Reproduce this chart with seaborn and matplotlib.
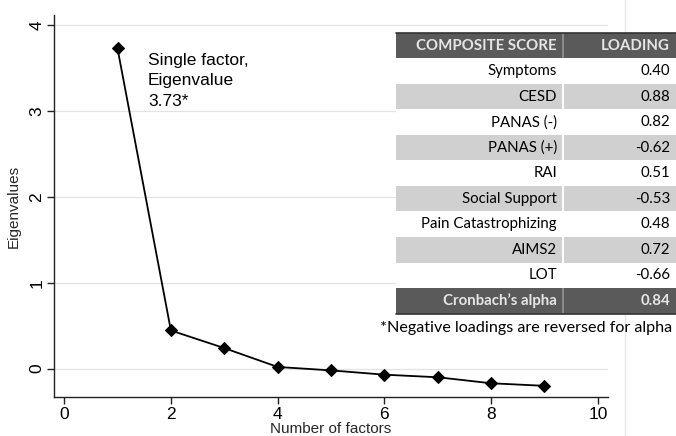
import matplotlib
matplotlib.use("Agg")
import matplotlib.pyplot as plt
import seaborn as sns
import pandas as pd
from matplotlib.patches import Rectangle
from matplotlib.lines import Line2D

# ---- data ----
factors = [1, 2, 3, 4, 5, 6, 7, 8, 9]
eigenvalues = [3.73, 0.445, 0.24, 0.02, -0.02, -0.07, -0.10, -0.17, -0.20]
x_ticks = [0, 2, 4, 6, 8, 10]
y_ticks = [0, 1, 2, 3, 4]
annotation = "Single factor,\nEigenvalue\n3.73*"

table_header = ["COMPOSITE SCORE", "LOADING"]
scores = ["Symptoms", "CESD", "PANAS (-)", "PANAS (+)", "RAI", "Social Support",
          "Pain Catastrophizing", "AIMS2", "LOT"]
loadings = ["0.40", "0.88", "0.82", "-0.62", "0.51", "-0.53", "0.48", "0.72", "-0.66"]
alpha_label = "Cronbach\u2019s alpha"
alpha_value = "0.84"
footnote = "*Negative loadings are reversed for alpha"

# ---- figure ----
sns.set_theme(style="white")
plt.rcParams["font.family"] = ["Liberation Sans", "DejaVu Sans"]

W, H = 676, 436
fig = plt.figure(figsize=(W / 100, H / 100), dpi=100)
fig.patch.set_facecolor("white")

def fx(x):
    return x / W

def fy(y):
    return 1 - y / H

# faint frame line at the right
fig.add_artist(Line2D([fx(625), fx(625)], [0, 1], transform=fig.transFigure,
                      color="#e6e6e6", lw=1.0, zorder=0))

ax = fig.add_axes([fx(54), fy(397), fx(608) - fx(54), fy(15) - fy(397)])
df = pd.DataFrame({"factor": factors, "eig": eigenvalues})
sns.lineplot(data=df, x="factor", y="eig", ax=ax, color="black", linewidth=1.3,
             marker="D", markersize=6.5, markeredgecolor="black",
             markerfacecolor="black")

ax.set_xlim(-0.19, 10.19)
ax.set_ylim(-0.33, 4.12)
ax.set_xticks(x_ticks)
ax.set_yticks(y_ticks)
ax.set_xticklabels([str(t) for t in x_ticks], fontsize=12.5)
ax.set_yticklabels([str(t) for t in y_ticks], fontsize=12.5, rotation=90, va="center")
ax.yaxis.grid(True, color="#e3e3e3", linewidth=0.9)
ax.xaxis.grid(False)
for s in ["top", "right"]:
    ax.spines[s].set_visible(False)
for s in ["left", "bottom"]:
    ax.spines[s].set_color("#222222")
    ax.spines[s].set_linewidth(1.0)
ax.tick_params(axis="both", which="both", direction="out", length=5, width=1,
               color="#222222", labelcolor="black", pad=2, bottom=True, left=True)
ax.set_xlabel("Number of factors", fontsize=11, labelpad=0)
ax.set_ylabel("Eigenvalues", fontsize=11, labelpad=6)

ax.text(fx(148), fy(53), annotation, transform=fig.transFigure, fontsize=12.5,
        ha="left", va="top", linespacing=1.45, color="black")

# ---- table ----
t_left, t_right, t_div = 396, 676, 563
t_top, row_h = 33, 25.5
dark = "#5a5a5a"
light = "#d0d0d0"
tfont = ["Lato", "DejaVu Sans"]
tsize = 10.8

def rect(x0, y0, x1, y1, color):
    fig.add_artist(Rectangle((fx(x0), fy(y1)), fx(x1) - fx(x0), fy(y0) - fy(y1),
                             transform=fig.transFigure, facecolor=color,
                             edgecolor="none", zorder=3))

rows = [table_header] + [[s, l] for s, l in zip(scores, loadings)] + [[alpha_label, alpha_value]]
for i, (left_txt, right_txt) in enumerate(rows):
    y0 = t_top + i * row_h
    y1 = y0 + row_h
    if i == 0 or i == len(rows) - 1:
        color, tcolor, weight = dark, "#e6e6e6", "bold"
    elif i % 2 == 0:
        color, tcolor, weight = light, "black", "normal"
    else:
        color, tcolor, weight = "white", "black", "normal"
    rect(t_left, y0, t_right, y1, color)
    if color != "white":
        rect(t_div - 1, y0, t_div + 1, y1, "white" if color == light else "#8a8a8a")
    ym = (y0 + y1) / 2
    fig.text(fx(557), fy(ym), left_txt, ha="right", va="center", fontsize=tsize,
             family=tfont, color=tcolor, weight=weight, zorder=4)
    fig.text(fx(670), fy(ym), right_txt, ha="right", va="center", fontsize=tsize,
             family=tfont, color=tcolor, weight=weight, zorder=4)

# borders
bottom_y = t_top + len(rows) * row_h
fig.add_artist(Line2D([fx(t_left), fx(t_right)], [fy(t_top), fy(t_top)],
                      transform=fig.transFigure, color="#333333", lw=1.2, zorder=5))
fig.add_artist(Line2D([fx(t_left), fx(t_right)], [fy(bottom_y), fy(bottom_y)],
                      transform=fig.transFigure, color="#333333", lw=1.2, zorder=5))

fig.text(fx(526), fy(328), footnote, ha="center", va="center", fontsize=11.6,
         family=tfont, color="black", zorder=4)

fig.savefig("out.png", dpi=100, facecolor="white")
